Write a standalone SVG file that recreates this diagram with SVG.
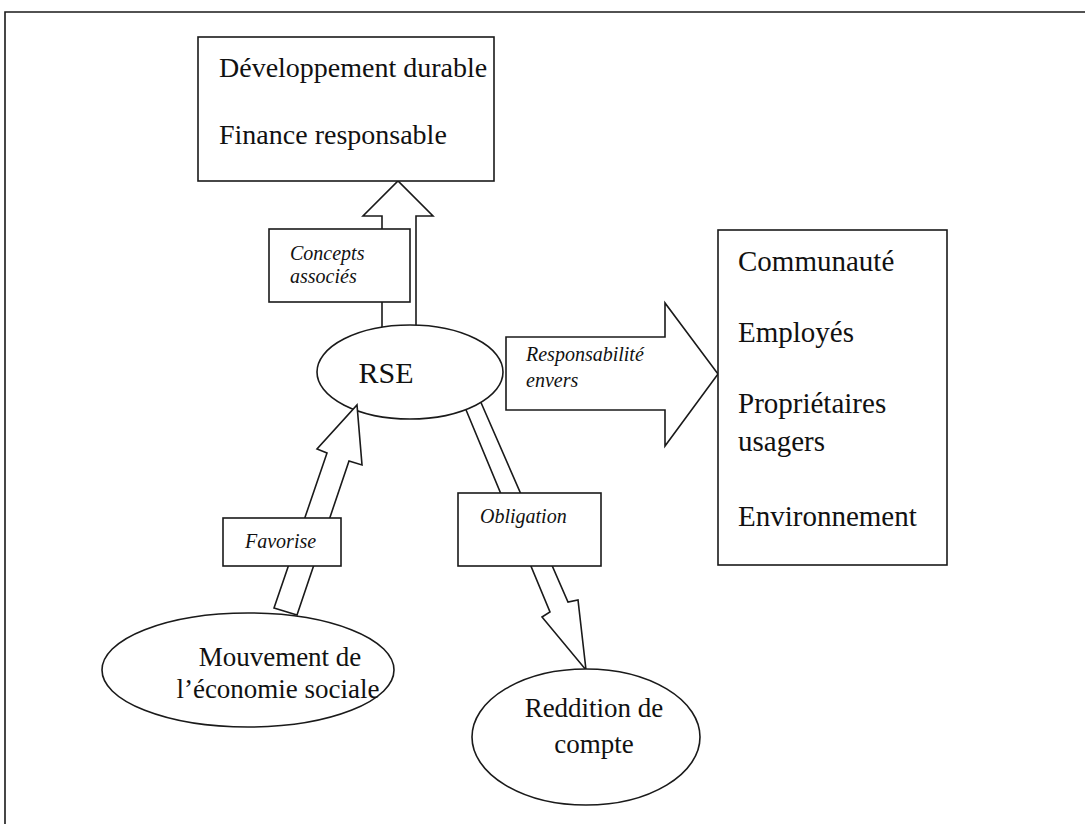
<svg xmlns="http://www.w3.org/2000/svg" width="1085" height="824" viewBox="0 0 1085 824">
<style>
.ln{fill:none;stroke:#1a1a1a;stroke-width:1.6}
.sh{fill:#fff;stroke:#1a1a1a;stroke-width:1.6;stroke-linejoin:miter}
.t{font-family:"Liberation Serif","Times New Roman",serif;font-size:29px;fill:#111}
.t27{font-family:"Liberation Serif","Times New Roman",serif;font-size:27px;fill:#111}
.t28{font-family:"Liberation Serif","Times New Roman",serif;font-size:28px;fill:#111}
.t30{font-family:"Liberation Serif","Times New Roman",serif;font-size:30px;fill:#111}
.it{font-family:"Liberation Serif","Times New Roman",serif;font-size:20px;font-style:italic;fill:#111}
</style>
<rect width="1085" height="824" fill="#fff"/>
<g id="frame">
<path class="ln" d="M5,824 V12 H1085"/>
</g>
<g id="connectors">
<polygon id="arrow-concepts" class="sh" points="382,330 382,216 363,216 398,181 433,216 416,216 416,330"/>
<polygon id="arrow-obligation" class="sh" points="464,405 550,612 542,617 586,670 578,600 568,602 479,398"/>
<polygon id="arrow-responsabilite" class="sh" points="506,337 665,337 665,303 718,374 665,446 665,410 506,410"/>
</g>
<g id="node-dev">
<rect class="sh" x="198" y="37" width="296" height="144"/>
<text class="t28" x="219" y="77">Développement durable</text>
<text class="t28" x="219" y="144">Finance responsable</text>
</g>
<g id="node-rse">
<ellipse class="sh" cx="410" cy="372" rx="93" ry="47"/>
<text class="t30" x="386" y="383" text-anchor="middle">RSE</text>
</g>
<g id="node-parties">
<rect class="sh" x="718" y="230" width="229" height="335"/>
<text class="t" x="738" y="271">Communauté</text>
<text class="t" x="738" y="342">Employés</text>
<text class="t" x="738" y="413">Propriétaires</text>
<text class="t" x="738" y="451">usagers</text>
<text class="t" x="738" y="526">Environnement</text>
</g>
<g id="node-mouvement">
<ellipse class="sh" cx="248" cy="670" rx="146" ry="57"/>
<text class="t27" x="280" y="666" text-anchor="middle">Mouvement de</text>
<text class="t27" x="278" y="698" text-anchor="middle">l’économie sociale</text>
</g>
<g id="node-reddition">
<ellipse class="sh" cx="586" cy="737" rx="114" ry="68"/>
<text class="t27" x="594" y="717" text-anchor="middle">Reddition de</text>
<text class="t27" x="594" y="753" text-anchor="middle">compte</text>
</g>
<g id="arrow-favorise">
<polygon class="sh" points="274,608 327,453 317,449 357,405 362,465 349,461 297,615"/>
</g>
<g id="label-concepts">
<rect class="sh" x="269" y="229" width="141" height="73"/>
<text class="it" x="290" y="260">Concepts</text>
<text class="it" x="290" y="283">associés</text>
</g>
<g id="label-responsabilite">
<text class="it" x="526" y="361">Responsabilité</text>
<text class="it" x="526" y="387">envers</text>
</g>
<g id="label-favorise">
<rect class="sh" x="223" y="518" width="118" height="48"/>
<text class="it" x="245" y="548">Favorise</text>
</g>
<g id="label-obligation">
<rect class="sh" x="458" y="493" width="143" height="73"/>
<text class="it" x="480" y="523">Obligation</text>
</g>
</svg>
